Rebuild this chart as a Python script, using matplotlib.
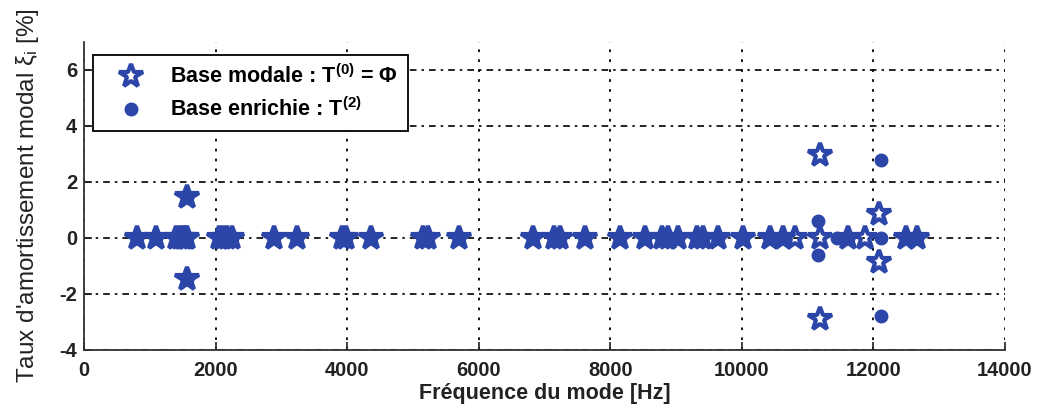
import matplotlib
matplotlib.use("Agg")
import matplotlib.pyplot as plt

# modes reels (frequence en Hz, amortissement en %)
f_zero = [800, 1090, 1400, 1460, 1500, 1540, 1570, 2050, 2120, 2170, 2250,
          2890, 3240, 3920, 3980, 4370, 5150, 5230, 5700, 6820, 7150, 7230,
          7610, 8145, 8525, 8785, 8880, 9030, 9320, 9410, 9640, 10020,
          10430, 10630, 11620, 12490, 12670]

# base modale T(0) = Phi
f_modale = f_zero + [1560, 1560, 10810, 11190, 11190, 11190, 11880, 12090, 12090]
xi_modale = [0] * len(f_zero) + [1.45, -1.45, 0, 0, 2.95, -2.9, 0, 0.87, -0.85]

# base enrichie T(2)
f_enrichie = f_zero + [1560, 1560, 11160, 11160, 11450, 12110, 12110, 12110]
xi_enrichie = [0] * len(f_zero) + [1.45, -1.45, 0.6, -0.6, 0, 0, 2.8, -2.8]

bleu = '#2b46a8'

plt.rcParams['font.family'] = ['Liberation Sans', 'DejaVu Sans']
plt.rcParams['mathtext.default'] = 'regular'
plt.rcParams['axes.unicode_minus'] = False

fig = plt.figure(figsize=(10.39, 4.09), dpi=100)
ax = fig.add_axes([0.0808, 0.1443, 0.8864, 0.7531])

ax.plot(f_modale, xi_modale, linestyle='none', marker='*', markersize=17.5,
        markerfacecolor='none', markeredgecolor=bleu, markeredgewidth=3,
        label=r'Base modale : T$^{(0)}$ = $\Phi$', zorder=3)
ax.plot(f_enrichie, xi_enrichie, linestyle='none', marker='o', markersize=9,
        color=bleu, label=r'Base enrichie : T$^{(2)}$', zorder=4)

ax.set_xlim(0, 14000)
ax.set_ylim(-4, 7)
ax.set_xticks(range(0, 14001, 2000))
ax.set_yticks([-4, -2, 0, 2, 4, 6])

# grille style matlab
ax.xaxis.grid(True, color='black', linestyle=(0, (1.5, 4)), linewidth=1.3)
ax.yaxis.grid(True, color='black', linestyle=(0, (4, 3, 1.5, 3)), linewidth=1.2)
ax.set_axisbelow(True)

ax.spines['top'].set_visible(False)
ax.spines['right'].set_visible(False)
ax.spines['left'].set_color('#333333')
ax.spines['bottom'].set_color('#333333')
ax.spines['left'].set_linewidth(1.3)
ax.spines['bottom'].set_linewidth(1.3)
ax.tick_params(direction='in', length=6, width=1.2, labelsize=14.5, colors='#222222')
ax.tick_params(axis='x', pad=8)
ax.tick_params(axis='y', pad=5)
for lbl in ax.get_xticklabels() + ax.get_yticklabels():
    lbl.set_fontweight('bold')

ax.set_xlabel('Fréquence du mode [Hz]', fontsize=15.5, fontweight='bold',
              color='#222222', labelpad=2)
ax.set_ylabel(r"Taux d'amortissement modal $\xi_i$ [%]", fontsize=17.5,
              color='#222222', labelpad=13)

leg = ax.legend(loc='upper left', bbox_to_anchor=(0.0098, 0.958), borderaxespad=0,
                frameon=True, fancybox=False, edgecolor='black', framealpha=1,
                borderpad=0.45, handletextpad=0.55, labelspacing=0.45,
                handlelength=2.6, prop={'weight': 'bold', 'size': 15.5})
leg.get_frame().set_linewidth(1.3)

fig.savefig('out.png', dpi=100)
